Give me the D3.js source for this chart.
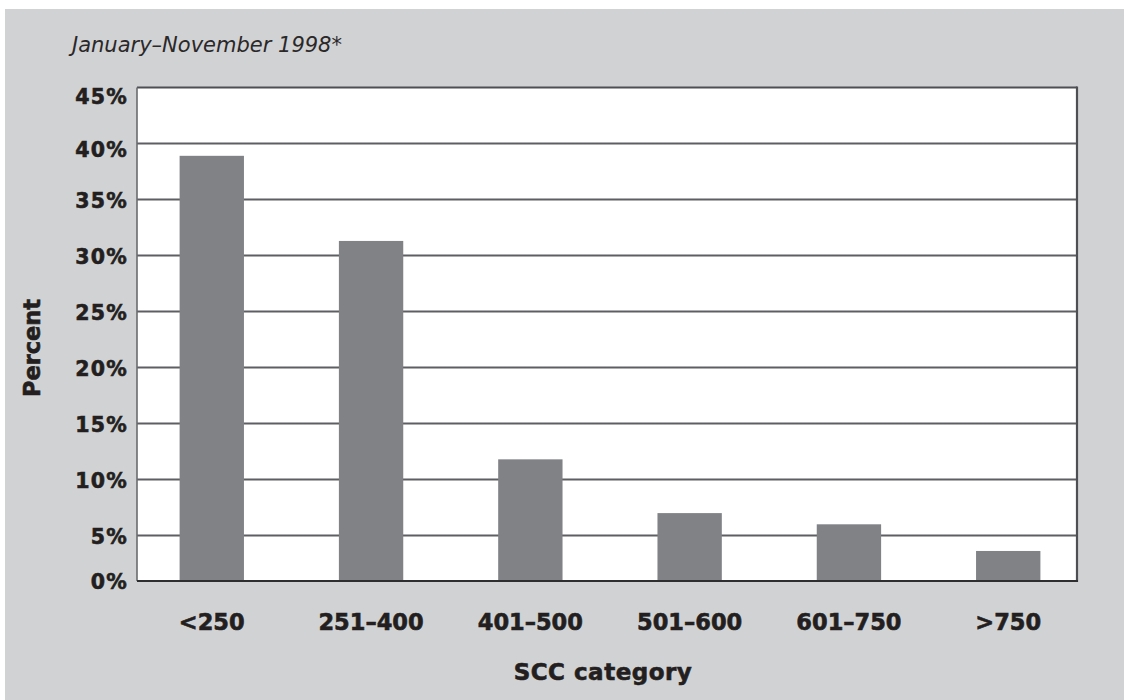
<!DOCTYPE html>
<html>
<head>
<meta charset="utf-8">
<script src="https://cdn.jsdelivr.net/npm/d3@7"></script>
<style>
  html, body { margin: 0; padding: 0; background: #ffffff; }
  svg { display: block; }
</style>
</head>
<body>
<svg id="chart" width="1124" height="700"></svg>
<script>
// SCC distribution, January–November 1998
const categories = ["<250", "251–400", "401–500", "501–600", "601–750", ">750"];
const percentValues = [38.9, 31.3, 11.8, 7.0, 6.0, 3.3];
const yTickValues = [0, 5, 10, 15, 20, 25, 30, 35, 40, 45];
const yTickLabels = ["0%", "5%", "10%", "15%", "20%", "25%", "30%", "35%", "40%", "45%"];

const titleText = "January–November 1998*";
const yAxisTitle = "Percent";
const xAxisTitle = "SCC category";

const svg = d3.select("#chart");
const W = 1124, H = 700;
const plot = { left: 137, right: 1077, top: 87.5, bottom: 581 };

const ink = "#231f20";
const boldFont = "'DejaVu Sans', 'Liberation Sans', sans-serif";

// heavier look for the bold labels
function heavy(sel) {
  return sel
    .attr("font-family", boldFont)
    .attr("font-weight", "bold")
    .attr("fill", ink)
    .attr("stroke", ink)
    .attr("stroke-width", 0.6)
    .attr("paint-order", "stroke");
}

// panel background
svg.append("rect")
  .attr("x", 5).attr("y", 9)
  .attr("width", W - 5).attr("height", H - 9)
  .attr("fill", "#d1d2d4");

// plot area
svg.append("rect")
  .attr("x", plot.left).attr("y", plot.top)
  .attr("width", plot.right - plot.left)
  .attr("height", plot.bottom - plot.top)
  .attr("fill", "#ffffff");

const x = d3.scaleBand()
  .domain(categories)
  .range([135, plot.right + 8])
  .paddingInner(0.596)
  .paddingOuter(0.28);

// first interval above the baseline is slightly compressed in this layout
const y = d3.scaleLinear()
  .domain([0, 5, 45])
  .range([plot.bottom, plot.bottom - 45.5, plot.top]);

// horizontal gridlines
svg.append("g")
  .selectAll("line")
  .data(yTickValues.filter(v => v > 0 && v < 45))
  .join("line")
  .attr("x1", plot.left).attr("x2", plot.right)
  .attr("y1", d => y(d)).attr("y2", d => y(d))
  .attr("stroke", "#5e5f62")
  .attr("stroke-width", 1.8);

// bars
const data = categories.map((c, i) => ({ cat: c, value: percentValues[i] }));
svg.append("g")
  .selectAll("rect")
  .data(data)
  .join("rect")
  .attr("x", d => x(d.cat))
  .attr("width", x.bandwidth())
  .attr("y", d => y(d.value))
  .attr("height", d => y(0) - y(d.value))
  .attr("fill", "#818286");

// frame
const frame = svg.append("g").attr("fill", "none");
frame.append("line")
  .attr("x1", plot.left).attr("x2", plot.right)
  .attr("y1", plot.top).attr("y2", plot.top)
  .attr("stroke", "#4e4f52").attr("stroke-width", 1.8);
frame.append("line")
  .attr("x1", plot.left).attr("x2", plot.left)
  .attr("y1", plot.top).attr("y2", plot.bottom)
  .attr("stroke", "#6a6b6e").attr("stroke-width", 1.6);
frame.append("line")
  .attr("x1", plot.right).attr("x2", plot.right)
  .attr("y1", plot.top - 0.9).attr("y2", plot.bottom + 1)
  .attr("stroke", "#4e4f52").attr("stroke-width", 2.2);
frame.append("line")
  .attr("x1", plot.left).attr("x2", plot.right + 1)
  .attr("y1", plot.bottom).attr("y2", plot.bottom)
  .attr("stroke", "#2e2e30").attr("stroke-width", 2);

// y tick labels
svg.append("g")
  .selectAll("text")
  .data(yTickValues)
  .join("text")
  .attr("x", 128)
  .attr("y", d => y(d) + (d === 45 ? 9 : d === 40 ? 6 : 1))
  .attr("dy", "0.36em")
  .attr("text-anchor", "end")
  .attr("font-size", 20.5)
  .attr("letter-spacing", 1.2)
  .call(heavy)
  .text((d, i) => yTickLabels[i]);

// x tick labels
svg.append("g")
  .selectAll("text")
  .data(categories)
  .join("text")
  .attr("x", d => x(d) + x.bandwidth() / 2)
  .attr("y", 630)
  .attr("text-anchor", "middle")
  .attr("font-size", 22.5)
  .call(heavy)
  .text(d => d);

// title
svg.append("text")
  .attr("x", 72).attr("y", 52)
  .attr("font-family", "'DejaVu Sans', 'Liberation Sans', sans-serif")
  .attr("font-style", "italic")
  .attr("font-size", 21)
  .attr("fill", "#2b2829")
  .text(titleText);

// axis titles
svg.append("text")
  .attr("transform", "translate(40,348) rotate(-90)")
  .attr("text-anchor", "middle")
  .attr("font-size", 22.5)
  .call(heavy)
  .text(yAxisTitle);

svg.append("text")
  .attr("x", (plot.left + plot.right) / 2 - 4)
  .attr("y", 680)
  .attr("text-anchor", "middle")
  .attr("font-size", 23)
  .attr("letter-spacing", 0.5)
  .call(heavy)
  .text(xAxisTitle);
</script>
</body>
</html>
